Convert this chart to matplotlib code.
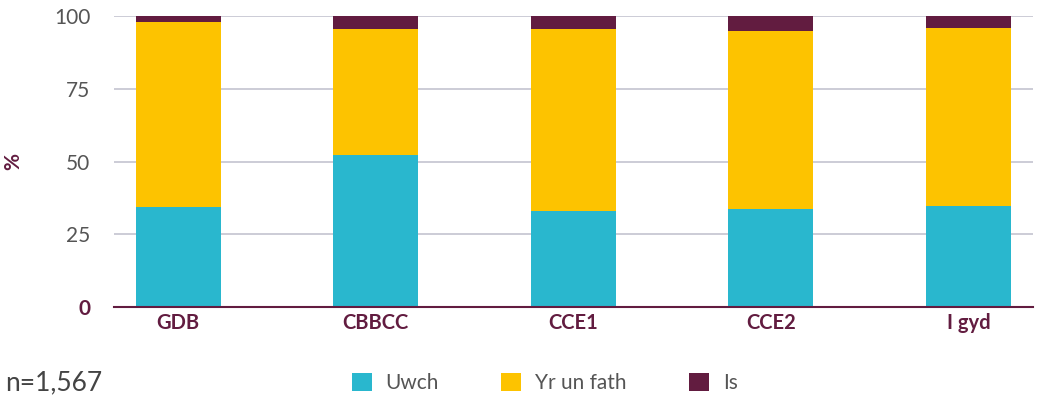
import matplotlib.pyplot as plt
import numpy as np

plt.rcParams['font.family'] = ['Lato', 'DejaVu Sans']

categories = ['GDB', 'CBBCC', 'CCE1', 'CCE2', 'I gyd']
uwch = [34.3, 52.1, 32.9, 33.6, 34.6]
yr_un_fath = [63.6, 43.3, 62.5, 61.1, 61.2]
is_ = [2.1, 4.6, 4.6, 5.3, 4.2]
y_ticks = [0, 25, 50, 75, 100]

teal = '#29B7CE'
yellow = '#FDC300'
maroon = '#621C40'
grey_txt = '#555555'

fig = plt.figure(figsize=(10.48, 4.01), dpi=100)
ax = fig.add_axes([0.1088, 0.2344, 0.8769, 0.7256])

x = np.arange(len(categories))
w = 0.43
b1 = ax.bar(x, uwch, w, color=teal, label='Uwch', zorder=3)
b2 = ax.bar(x, yr_un_fath, w, bottom=uwch, color=yellow, label='Yr un fath', zorder=3)
bottom2 = np.array(uwch) + np.array(yr_un_fath)
b3 = ax.bar(x, is_, w, bottom=bottom2, color=maroon, label='Is', zorder=3)

ax.set_xlim(-0.324, 4.326)
ax.set_ylim(0, 100)
ax.set_yticks(y_ticks)
ax.yaxis.grid(True, color='#C3C3CF', linewidth=1.2, zorder=0)
for s in ['top', 'right', 'left']:
    ax.spines[s].set_visible(False)
ax.spines['bottom'].set_color(maroon)
ax.spines['bottom'].set_linewidth(1.5)
ax.spines['bottom'].set_zorder(4)
ax.tick_params(axis='both', length=0)
ax.tick_params(axis='y', pad=17)
ax.tick_params(axis='x', pad=4)

ax.set_xticks(x)
ax.set_xticklabels(categories, fontsize=14.5, fontweight='bold', color=maroon)
ax.set_yticklabels([str(t) for t in y_ticks], fontsize=15, color=grey_txt)
lab0 = ax.get_yticklabels()[0]
lab0.set_fontweight('bold')
lab0.set_color(maroon)

ax.set_ylabel('%', fontsize=15, fontweight='bold', color=maroon, labelpad=22)

fig.text(0.005, 0.045, 'n=1,567', fontsize=19, color='#444444', va='center')

leg = fig.legend(handles=[b1, b2, b3], loc='center', bbox_to_anchor=(0.52, 0.045),
                 ncol=3, frameon=False, fontsize=15, handlelength=0.96, handleheight=0.96,
                 handletextpad=0.67, columnspacing=3.0)
for t in leg.get_texts():
    t.set_color(grey_txt)

fig.savefig('out.png', dpi=100)
